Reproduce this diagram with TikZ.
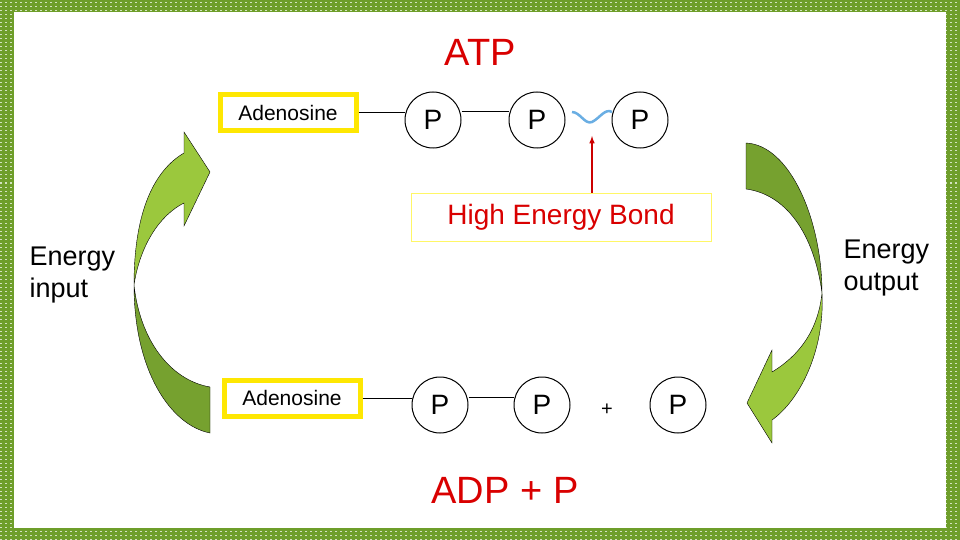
\documentclass[tikz,border=0pt]{standalone}
\usepackage{fontspec}
\setmainfont{Liberation Sans}
\begin{document}
\begin{tikzpicture}[x=1pt,y=-1pt,
  adbox/.style={draw=yellow!90!orange,line width=5pt,fill=white,minimum width=136pt,minimum height=36pt,inner sep=0pt},
  pc/.style={circle,draw,line width=1pt,minimum size=56pt,inner sep=0pt,font=\fontsize{28}{30}\selectfont},
  red/.style={text=red!85!black},
  conn/.style={line width=1pt}]
\definecolor{lg}{HTML}{9BC83D}
\definecolor{dg}{HTML}{76A12F}
\definecolor{fr}{HTML}{6E9E2A}
\useasboundingbox (0,0) rectangle (960,540);
\fill[fr] (0,0) rectangle (960,540);
\foreach \y in {3,7,...,540} {\draw[white!70!fr,dash pattern=on 2pt off 3pt,line width=1pt] (0,\y) -- (960,\y);}
\fill[white] (14,12) rectangle (946,528);
\node[red,font=\fontsize{38}{40}\selectfont] (atp) at (480,52) {ATP};
\node[adbox] (a1) at (288,113) {\fontsize{21}{23}\selectfont Adenosine};
\node[pc] (p1) at (433,120) {P};
\node[pc] (p2) at (537,120) {P};
\node[pc] (p3) at (640,120) {P};
\draw[conn] (a1.east) -- (p1.west |- a1.east);
\draw[conn] (p1.east |- 0,112) -- (p2.west |- 0,112);
\draw[cyan!70!blue!60,line width=2.5pt] (572,112) .. controls (580,112) and (585,125) .. (592,122) .. controls (600,118) and (605,108) .. (612,112);
\node[draw=yellow!60,thick,minimum width=300pt,minimum height=48pt,red,font=\fontsize{28}{30}\selectfont] (heb) at (561,217) {High Energy Bond};
\coordinate (bt) at (592,136);
\draw[red!80!black,line width=1.5pt,-latex] (heb.north -| bt) -- (bt);
\node[align=left,font=\fontsize{27}{32}\selectfont,anchor=west] (ein) at (26,275) {Energy\\input};
\node[align=left,font=\fontsize{27}{32}\selectfont,anchor=west] (eout) at (840,268) {Energy\\output};
\node[adbox] (a2) at (292,398) {\fontsize{21}{23}\selectfont Adenosine};
\node[pc] (q1) at (440,405) {P};
\node[pc] (q2) at (542,405) {P};
\node[font=\fontsize{20}{22}\selectfont] (plus) at (607,410) {+};
\node[pc] (q3) at (678,405) {P};
\draw[conn] (a2.east) -- (q1.west |- a2.east);
\draw[conn] (q1.east |- 0,397) -- (q2.west |- 0,397);
\node[red,font=\fontsize{38}{40}\selectfont] (adp) at (505,490) {ADP + P};
% left arrow
\draw[fill=lg] (134,285) .. controls (134,210) and (155,170) .. (184,153) -- (184,132) -- (210,172) -- (184,226) -- (184,203) .. controls (160,215) and (140,245) .. (134,285);
\draw[fill=dg] (134,285) .. controls (134,370) and (170,425) .. (210,433) -- (210,387) .. controls (170,380) and (140,340) .. (134,285);
% right arrow
\draw[fill=dg] (746,143) .. controls (790,145) and (822,220) .. (822,293) .. controls (815,240) and (790,195) .. (746,189) -- cycle;
\draw[fill=lg] (822,293) .. controls (825,350) and (800,400) .. (772,420) -- (772,443) -- (747,403) -- (772,350) -- (772,372) .. controls (800,355) and (818,330) .. (822,293);
\end{tikzpicture}
\end{document}
